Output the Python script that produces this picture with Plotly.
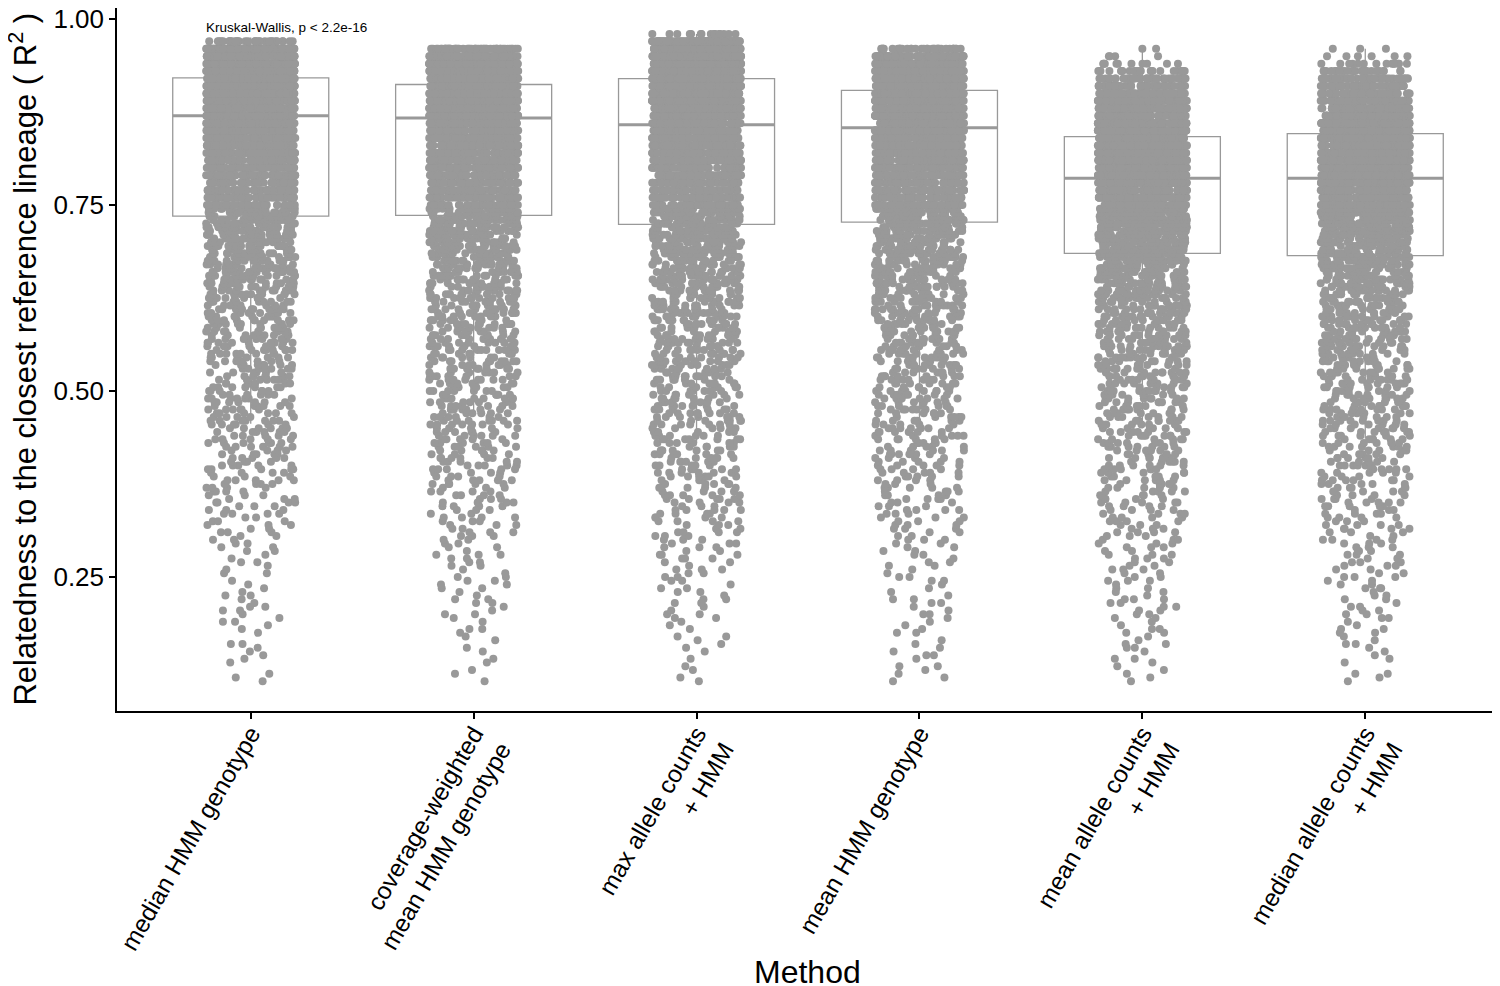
import numpy as np
import plotly.graph_objects as go

# methods on the x axis
methods = ["median HMM genotype",
           "coverage-weighted<br>mean HMM genotype",
           "max allele counts<br>+ HMM",
           "mean HMM genotype",
           "mean allele counts<br>+ HMM",
           "median allele counts<br>+ HMM"]

# box summaries
q1 = [0.735, 0.736, 0.724, 0.727, 0.685, 0.682]
median = [0.870, 0.867, 0.858, 0.854, 0.786, 0.786]
q3 = [0.921, 0.912, 0.920, 0.904, 0.842, 0.846]
lowerfence = [0.456, 0.472, 0.430, 0.462, 0.450, 0.436]
upperfence = [0.975, 0.965, 0.980, 0.962, 0.962, 0.960]

# R2 levels: 0.005 steps in the sparse tail, 0.01 steps in the dense part
levels_tail = [0.110, 0.115, 0.120, 0.125, 0.130, 0.135, 0.140, 0.145, 0.150, 0.155,
               0.160, 0.165, 0.170, 0.175, 0.180, 0.185, 0.190, 0.195,
               0.200, 0.205, 0.210, 0.215, 0.220, 0.225, 0.230, 0.235, 0.240, 0.245,
               0.250, 0.255, 0.260, 0.265, 0.270, 0.275, 0.280, 0.285, 0.290, 0.295,
               0.300, 0.305, 0.310, 0.315, 0.320, 0.325, 0.330, 0.335, 0.340, 0.345,
               0.350, 0.355, 0.360, 0.365, 0.370, 0.375, 0.380, 0.385, 0.390, 0.395,
               0.400, 0.405, 0.410, 0.415, 0.420, 0.425, 0.430, 0.435, 0.440, 0.445,
               0.450, 0.455, 0.460, 0.465, 0.470, 0.475, 0.480, 0.485, 0.490, 0.495,
               0.500, 0.505, 0.510, 0.515, 0.520, 0.525, 0.530, 0.535, 0.540, 0.545,
               0.550, 0.555, 0.560, 0.565, 0.570, 0.575, 0.580, 0.585, 0.590, 0.595,
               0.600, 0.605, 0.610, 0.615, 0.620, 0.625, 0.630, 0.635, 0.640, 0.645,
               0.650, 0.655, 0.660, 0.665, 0.670, 0.675, 0.680, 0.685, 0.690, 0.695,
               0.700, 0.705, 0.710, 0.715, 0.720, 0.725, 0.730, 0.735, 0.740, 0.745]
levels_dense = [0.75, 0.76, 0.77, 0.78, 0.79,
                0.80, 0.81, 0.82, 0.83, 0.84, 0.85, 0.86, 0.87, 0.88, 0.89,
                0.90, 0.91, 0.92, 0.93, 0.94, 0.95, 0.96, 0.97, 0.98]
levels = levels_tail + levels_dense

# number of samples at each level, per method
counts_median_hmm = [
    1, 1, 1, 0, 0, 1, 1, 1, 1, 1, 2, 0, 0, 1, 1, 1, 2, 1,
    1, 2, 2, 1, 1, 2, 1, 1, 1, 1, 0, 2, 1, 1, 2, 1, 1, 2, 2, 2,
    2, 2, 3, 2, 3, 3, 2, 4, 3, 3, 4, 3, 3, 4, 4, 4, 5, 3, 4, 5,
    5, 4, 5, 5, 4, 6, 6, 5, 5, 6, 6, 6, 7, 5, 6, 6, 6, 7, 7, 6,
    6, 7, 7, 7, 8, 6, 7, 8, 8, 7, 8, 8, 7, 9, 9, 8, 9, 9, 8, 10,
    10, 9, 10, 10, 10, 11, 11, 11, 12, 11, 12, 12, 13, 13, 14, 14, 15, 15, 16, 16,
    17, 17, 18, 18, 19, 19, 20, 20, 21, 22,
    46, 49, 52, 56, 60, 64, 68, 72, 78, 84, 90, 98, 106, 114, 122,
    150, 160, 165, 165, 160, 145, 110, 30, 0]
counts_cov_weighted = [
    1, 0, 1, 1, 0, 1, 1, 0, 1, 1, 0, 1, 1, 1, 2, 0, 1, 1,
    2, 1, 1, 2, 2, 1, 1, 2, 2, 2, 2, 1, 1, 2, 2, 2, 3, 1, 2, 2,
    2, 3, 3, 2, 3, 3, 4, 2, 3, 4, 4, 3, 4, 4, 3, 5, 5, 4, 4, 5,
    5, 5, 6, 4, 5, 6, 6, 5, 6, 6, 5, 7, 7, 6, 6, 7, 7, 7, 8, 6,
    7, 7, 7, 8, 8, 7, 8, 8, 9, 7, 8, 9, 9, 8, 9, 9, 8, 10, 10, 9,
    10, 10, 10, 11, 11, 11, 12, 11, 12, 12, 12, 13, 13, 14, 14, 15, 15, 16, 16, 17,
    17, 18, 18, 19, 19, 20, 20, 21, 22, 22,
    47, 50, 54, 58, 62, 66, 70, 75, 80, 86, 93, 101, 110, 120, 130,
    145, 155, 158, 150, 135, 100, 50, 0, 0]
counts_max_allele = [
    1, 1, 0, 1, 1, 0, 1, 0, 1, 1, 1, 1, 2, 0, 1, 1, 1, 2,
    2, 1, 1, 2, 2, 1, 2, 2, 1, 2, 2, 2, 3, 1, 2, 3, 3, 2, 3, 3,
    3, 3, 4, 3, 3, 4, 4, 4, 5, 3, 4, 5, 5, 4, 5, 5, 4, 6, 6, 5,
    5, 6, 6, 6, 7, 5, 6, 7, 7, 6, 6, 7, 7, 7, 8, 6, 7, 8, 8, 7,
    7, 8, 8, 8, 9, 7, 8, 9, 9, 8, 9, 9, 8, 10, 10, 9, 9, 10, 10, 10,
    10, 11, 11, 11, 12, 11, 12, 12, 12, 13, 13, 13, 13, 14, 14, 14, 15, 15, 16, 16,
    17, 17, 18, 18, 19, 19, 20, 21, 22, 22,
    47, 50, 54, 58, 62, 66, 70, 74, 78, 83, 88, 94, 100, 110, 120,
    130, 140, 145, 148, 145, 138, 120, 85, 15]
counts_mean_hmm = [
    1, 1, 1, 1, 2, 0, 1, 2, 1, 1, 1, 1, 0, 2, 1, 1, 1, 1,
    2, 1, 1, 2, 2, 1, 1, 1, 1, 2, 2, 1, 1, 2, 2, 1, 2, 2, 2, 2,
    3, 2, 2, 3, 3, 3, 3, 3, 4, 3, 3, 4, 4, 4, 5, 3, 4, 5, 5, 4,
    5, 5, 4, 6, 6, 5, 5, 6, 6, 6, 7, 5, 6, 6, 6, 7, 7, 6, 7, 7,
    8, 6, 7, 8, 8, 7, 8, 8, 7, 9, 9, 8, 8, 9, 9, 9, 10, 9, 9, 10,
    10, 10, 11, 10, 11, 11, 11, 12, 12, 12, 13, 12, 13, 14, 14, 15, 15, 16, 16, 17,
    17, 18, 18, 19, 20, 20, 21, 22, 23, 23,
    50, 54, 58, 62, 67, 72, 77, 82, 88, 94, 100, 108, 116, 124, 132,
    140, 145, 142, 132, 115, 85, 35, 0, 0]
counts_mean_allele = [
    1, 1, 1, 1, 1, 1, 2, 0, 1, 2, 2, 1, 1, 2, 2, 1, 1, 2,
    2, 2, 2, 2, 3, 1, 2, 2, 1, 3, 2, 2, 3, 2, 2, 3, 3, 2, 3, 3,
    3, 3, 4, 3, 3, 4, 4, 4, 4, 4, 5, 4, 4, 5, 5, 5, 6, 5, 5, 6,
    6, 6, 7, 5, 6, 7, 7, 6, 7, 7, 6, 8, 8, 7, 7, 8, 8, 8, 8, 8,
    9, 8, 8, 9, 9, 9, 10, 8, 9, 10, 10, 10, 11, 9, 10, 11, 11, 11, 12, 11,
    12, 12, 12, 13, 13, 14, 14, 15, 15, 16, 16, 17, 18, 18, 19, 20, 21, 21, 23, 23,
    25, 25, 27, 28, 30, 30, 33, 33, 36, 36,
    80, 88, 96, 104, 110, 116, 120, 122, 122, 120, 116, 110, 102, 92, 80,
    66, 50, 36, 22, 10, 4, 2, 0, 0]
counts_median_allele = [
    1, 1, 2, 0, 0, 1, 1, 1, 1, 1, 2, 1, 1, 2, 2, 1, 1, 2,
    2, 2, 2, 1, 2, 2, 1, 3, 2, 2, 3, 2, 2, 3, 3, 2, 3, 3, 3, 3,
    4, 2, 3, 4, 4, 3, 4, 4, 3, 5, 5, 4, 4, 5, 5, 5, 6, 4, 5, 6,
    6, 5, 6, 6, 5, 7, 7, 6, 6, 7, 7, 7, 8, 6, 7, 8, 8, 7, 8, 8,
    7, 9, 9, 8, 8, 9, 9, 9, 10, 8, 9, 10, 10, 10, 11, 9, 10, 11, 11, 11,
    12, 11, 12, 12, 13, 13, 14, 14, 15, 15, 16, 17, 18, 18, 19, 20, 21, 21, 23, 23,
    25, 25, 27, 28, 30, 30, 33, 33, 36, 36,
    79, 86, 94, 102, 108, 114, 118, 120, 120, 118, 114, 108, 100, 92, 82,
    70, 55, 40, 26, 14, 6, 3, 0, 0]

all_counts = [counts_median_hmm, counts_cov_weighted, counts_max_allele,
              counts_mean_hmm, counts_mean_allele, counts_median_allele]

# expand the frequency tables into one sample per point
xs, ys = [], []
for m, cnt in zip(methods, all_counts):
    vals = np.repeat(levels, cnt)
    ys.extend(vals.tolist())
    xs.extend([m] * len(vals))

grey = "#999999"
fnt = "Liberation Sans, Arial, sans-serif"

fig = go.Figure()

# boxes (drawn first, points go on top)
fig.add_trace(go.Box(x=methods, q1=q1, median=median, q3=q3,
                     lowerfence=lowerfence, upperfence=upperfence,
                     width=0.7, whiskerwidth=0, boxpoints=False,
                     fillcolor="white", line=dict(color=grey, width=1.3),
                     hoverinfo="skip", showlegend=False))
# thicker median bar
fig.add_trace(go.Box(x=methods, q1=median, median=median, q3=median,
                     lowerfence=median, upperfence=median,
                     width=0.7, whiskerwidth=0, boxpoints=False,
                     fillcolor="rgba(0,0,0,0)", line=dict(color=grey, width=3),
                     hoverinfo="skip", showlegend=False))
# jittered samples
fig.add_trace(go.Box(x=xs, y=ys, boxpoints="all", jitter=1, pointpos=0,
                     width=0.4, fillcolor="rgba(0,0,0,0)",
                     line=dict(color="rgba(0,0,0,0)", width=0),
                     marker=dict(color=grey, size=8, line=dict(width=0)),
                     showlegend=False))

fig.add_annotation(x=-0.21, y=0.989, xref="x", yref="y",
                   text="Kruskal-Wallis, p < 2.2e-16", showarrow=False,
                   xanchor="left", yanchor="middle",
                   font=dict(family=fnt, size=13.5, color="black"))

# axis titles as free annotations so they can sit right at the page edges
fig.add_annotation(x=-0.0687, y=0.5, xref="paper", yref="paper",
                   text="Relatedness to the closest reference lineage ( R<sup>2</sup> )",
                   textangle=-90, showarrow=False,
                   xanchor="center", yanchor="middle",
                   font=dict(family=fnt, size=31, color="black"))
fig.add_annotation(x=0.4993, y=-0.371, xref="paper", yref="paper",
                   text="Method", showarrow=False,
                   xanchor="center", yanchor="middle",
                   font=dict(family=fnt, size=32, color="black"))

# the page body adds an 8px margin, so the figure is a bit smaller than the window
fig.update_layout(
    width=1492, height=978,
    margin=dict(l=109, r=1, t=0, b=275),
    paper_bgcolor="white", plot_bgcolor="white",
    boxmode="overlay",
    font=dict(family=fnt, color="black"),
    xaxis=dict(
        type="category", categoryorder="array", categoryarray=methods,
        range=[-0.6, 5.6], showgrid=False, zeroline=False,
        showline=True, linecolor="black", linewidth=1.5,
        ticks="outside", ticklen=6, tickcolor="black", tickwidth=1.5,
        ticklabelstandoff=-9,
        tickangle=-60, tickfont=dict(family=fnt, size=24.5, color="black"),
        automargin=False,
    ),
    yaxis=dict(
        range=[0.0699, 1.0148], showgrid=False, zeroline=False,
        showline=True, linecolor="black", linewidth=1.5,
        ticks="outside", ticklen=6, tickcolor="black", tickwidth=1.5,
        tickvals=[0.25, 0.50, 0.75, 1.00], tickformat=".2f",
        ticklabeloverflow="allow",
        tickfont=dict(family=fnt, size=26, color="black"),
        automargin=False,
    ),
)

fig.write_html("out.html")
